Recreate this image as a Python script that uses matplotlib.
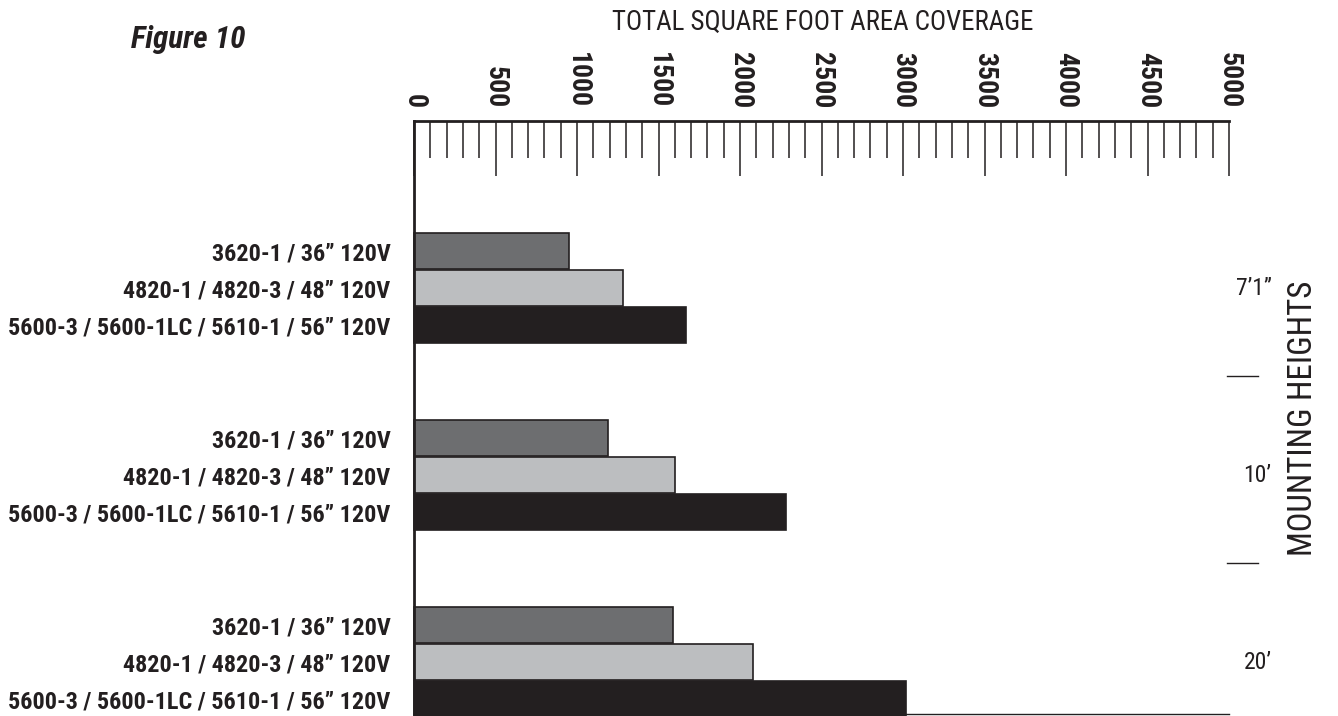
import matplotlib
matplotlib.use("Agg")
import matplotlib.pyplot as plt
from matplotlib import font_manager

names = {f.name for f in font_manager.fontManager.ttflist}
NARROW = next((n for n in ["Roboto Condensed", "Archivo Narrow", "PT Sans Narrow",
                           "Open Sans Condensed", "Liberation Sans Narrow"]
               if n in names), "DejaVu Sans")
plt.rcParams["font.family"] = [NARROW, "DejaVu Sans"]

heights = ["7\u20191\u201d", "10\u2019", "20\u2019"]
models = ["3620-1 / 36\u201d 120V",
          "4820-1 / 4820-3 / 48\u201d 120V",
          "5600-3 / 5600-1LC / 5610-1 / 56\u201d 120V"]
coverage = {
    "3620-1": [950, 1190, 1590],
    "4820-1": [1280, 1600, 2080],
    "5600-3": [1670, 2280, 3020],
}
colors = ["#6d6e70", "#bcbec0", "#231f20"]
ticks = list(range(0, 5001, 500))
INK = "#231f20"

fig = plt.figure(figsize=(13.38, 7.16), dpi=100)
ax = fig.add_axes([414 / 1338, 2 / 716, 815 / 1338, 593 / 716])

offsets = [-0.198, 0.0, 0.198]
ypos, ylabels = [], []
for g in range(len(heights)):
    center = 0.893 + g
    for k, key in enumerate(coverage):
        y = center + offsets[k]
        ax.barh(y, coverage[key][g], height=0.19, color=colors[k],
                edgecolor=INK, linewidth=1.2, clip_on=False)
        ypos.append(y)
        ylabels.append(models[k])
    ax.text(5260, center, heights[g], ha="right", va="center",
            fontsize=17, color=INK, clip_on=False)
    if g < len(heights) - 1:
        ax.plot([4990, 5180], [center + 0.47, center + 0.47], color=INK,
                lw=1, clip_on=False)

ax.set_xlim(0, 5000)
ax.set_ylim(3.17, 0)
ax.set_yticks(ypos)
ax.set_yticklabels(ylabels, fontsize=17.4, fontweight="bold", color=INK)
ax.tick_params(axis="y", length=0, pad=17)

ax.xaxis.tick_top()
ax.set_xticks(ticks)
ax.set_xticks(range(0, 5001, 100), minor=True)
ax.set_xticklabels([str(t) for t in ticks], fontsize=20, fontweight="bold",
                   rotation=-90, color=INK)
ax.tick_params(axis="x", which="major", direction="in", length=39.6, width=1.1,
               pad=9, color=INK)
ax.tick_params(axis="x", which="minor", direction="in", length=26.6, width=1.1,
               color=INK)

ax.spines["right"].set_visible(False)
ax.spines["top"].set_linewidth(2)
ax.spines["left"].set_linewidth(2)
ax.spines["bottom"].set_linewidth(1)
for s in ax.spines.values():
    s.set_color(INK)

fig.text(823 / 1338, 1 - 22 / 716, "TOTAL SQUARE FOOT AREA COVERAGE",
         ha="center", va="center", fontsize=19.4, color=INK)
fig.text(188 / 1338, 1 - 40 / 716, "Figure 10", ha="center", va="center",
         fontsize=22.5, fontweight="bold", fontstyle="italic", color=INK)
ax.text(5455, 1.59, "MOUNTING HEIGHTS", rotation=90, ha="center", va="center",
        fontsize=23.7, color=INK, clip_on=False)

fig.savefig("out.png", dpi=100)
